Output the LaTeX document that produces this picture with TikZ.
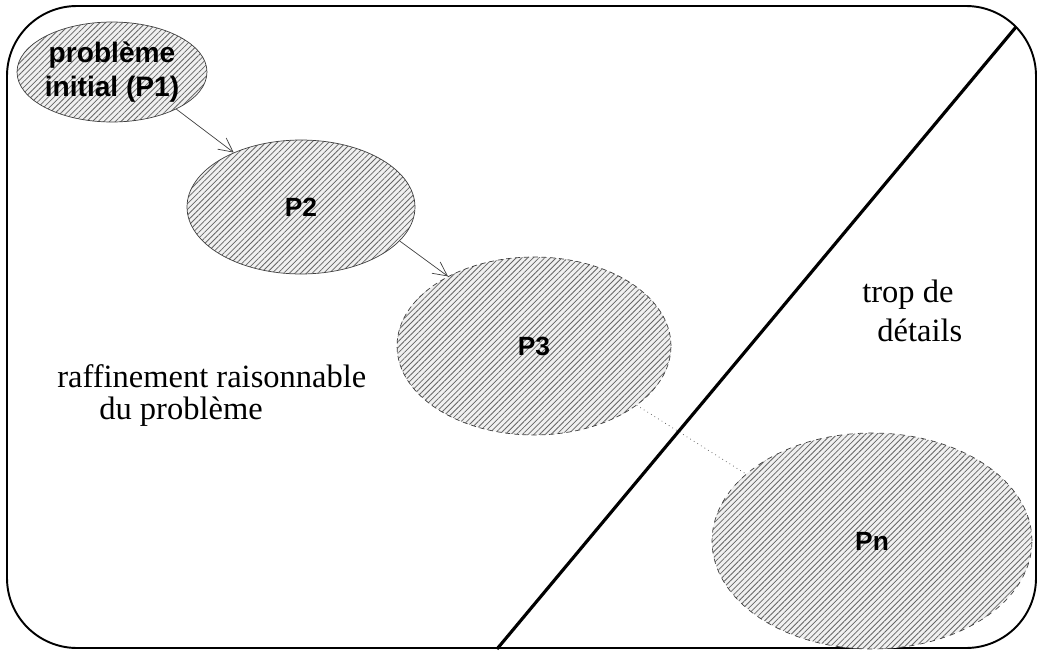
\documentclass[tikz,border=0pt]{standalone}
\usepackage{fontspec}
\setmainfont{Liberation Serif}
\setsansfont{Liberation Sans}
\usepackage{tikz}
\usetikzlibrary{shapes.geometric, arrows.meta}
\usetikzlibrary{patterns.meta}
\tikzstyle{etape} = [ellipse, draw=black!75, thin, inner sep=0pt, align=center, font=\sffamily\bfseries\fontsize{15}{17}\selectfont, preaction={fill=gray!12}, pattern={Lines[angle=45,distance=2.3pt,line width=0.45pt]}, pattern color=black!60]
\tikzstyle{fleche} = [thin, draw=black!75, -{Straight Barb[length=8pt,width=8pt]}]
\tikzstyle{remarque} = [anchor=west, inner sep=0pt, font=\fontsize{18.5}{22}\selectfont]

\begin{document}
\begin{tikzpicture}[x=0.02cm, y=0.02cm]
	\useasboundingbox (0, 0) rectangle (1038, 654);
	\draw [line width=1.1pt, rounded corners=1.4cm] (7, 6) rectangle (1036, 648);
	\draw [line width=1.8pt] (497, 5) -- (1016, 627);
	\node [etape, font=\sffamily\bfseries\fontsize{16}{19}\selectfont, minimum width=3.6cm, minimum height=2cm] (p1) at (112, 582) {probl\`eme\\initial (P1)};
	\node [etape, minimum width=4.56cm, minimum height=2.68cm] (p2) at (301, 447) {P2};
	\node [etape, densely dashed, minimum width=5.48cm, minimum height=3.56cm] (p3) at (534, 308) {P3};
	\node [etape, dashed, minimum width=6.4cm, minimum height=4.32cm] (pn) at (872, 113) {Pn};
	\draw [fleche] (p1.-30) -- (p2.141);
	\draw [fleche] (p2.-19) -- (p3.141);
	\draw [thin, dotted, black!70] (p3.-30) -- (pn.152);
	\node [remarque] (raff) at (57, 278) {raffinement raisonnable};
	\node [remarque] (dupb) at (99, 242) {du probl\`eme};
	\node [remarque] (trop) at (862, 359) {trop de};
	\node [remarque] (det) at (877, 324) {d\'etails};
\end{tikzpicture}
\end{document}
